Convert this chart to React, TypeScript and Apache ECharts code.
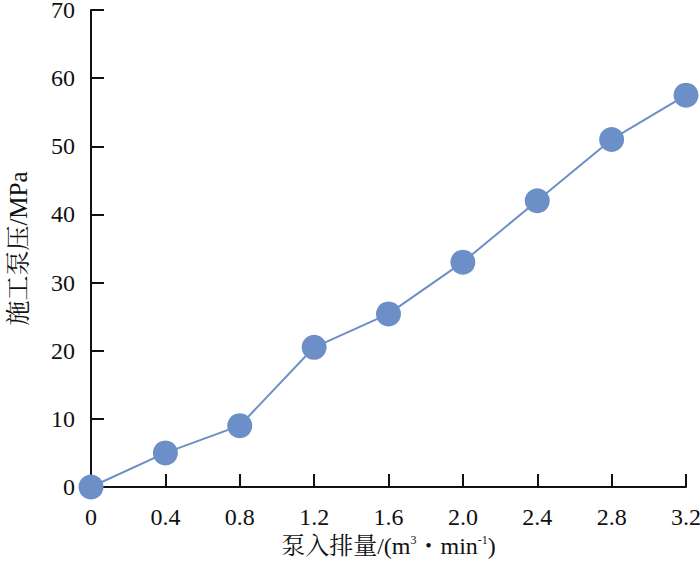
import React, { useEffect, useRef } from "react";
import * as echarts from "echarts";

const xValues = [0, 0.4, 0.8, 1.2, 1.6, 2.0, 2.4, 2.8, 3.2];
const pressure = [0, 5, 9, 20.5, 25.4, 33, 42, 51, 57.5];
const xName = "泵入排量/(m{sup|3}・min{sup|-1})";
const yName = "施工泵压/MPa";

const FONT = "'Liberation Serif', 'Noto Serif CJK SC', 'Noto Sans CJK SC', serif";

export default function App() {
  const ref = useRef<HTMLDivElement>(null);
  useEffect(() => {
    const chart = echarts.init(ref.current!, undefined, { renderer: "svg" });
    chart.setOption({
      animation: false,
      grid: { left: 91, top: 10, right: 14, bottom: 76, containLabel: false, outerBoundsMode: "none" },
      xAxis: {
        type: "value",
        min: 0,
        max: 3.2,
        interval: 0.4,
        name: xName,
        nameLocation: "middle",
        nameGap: 47,
        nameTextStyle: {
          fontFamily: FONT,
          fontSize: 24,
          color: "#111",
          rich: { sup: { fontSize: 12, verticalAlign: "top", padding: [0, 0, 10, 0], fontFamily: FONT, color: "#111" } },
        },
        axisLine: { show: true, lineStyle: { color: "#111", width: 2 } },
        axisTick: { show: true, inside: true, length: 13, lineStyle: { color: "#111", width: 2 } },
        splitLine: { show: false },
        axisLabel: {
          fontFamily: FONT,
          fontSize: 24,
          color: "#111",
          margin: 18,
          formatter: (v: number) => (v === 0 ? "0" : v.toFixed(1)),
        },
      },
      yAxis: {
        type: "value",
        min: 0,
        max: 70,
        interval: 10,
        name: yName,
        nameLocation: "middle",
        nameRotate: 90,
        nameGap: 60,
        nameTextStyle: { fontFamily: FONT, fontSize: 25, color: "#111" },
        axisLine: { show: true, lineStyle: { color: "#111", width: 2 } },
        axisTick: { show: true, inside: true, length: 13, lineStyle: { color: "#111", width: 2 } },
        splitLine: { show: false },
        axisLabel: { fontFamily: FONT, fontSize: 24, lineHeight: 18, color: "#111", margin: 16 },
      },
      series: [
        {
          type: "line",
          data: xValues.map((x, i) => [x, pressure[i]]),
          symbol: "circle",
          symbolSize: 25,
          lineStyle: { color: "#6b8fc6", width: 2 },
          itemStyle: { color: "#6b8fc6" },
          clip: false,
        },
      ],
    });
    return () => chart.dispose();
  }, []);
  return <div ref={ref} style={{ width: 700, height: 563, position: "absolute", left: 0, top: 0 }} />;
}
